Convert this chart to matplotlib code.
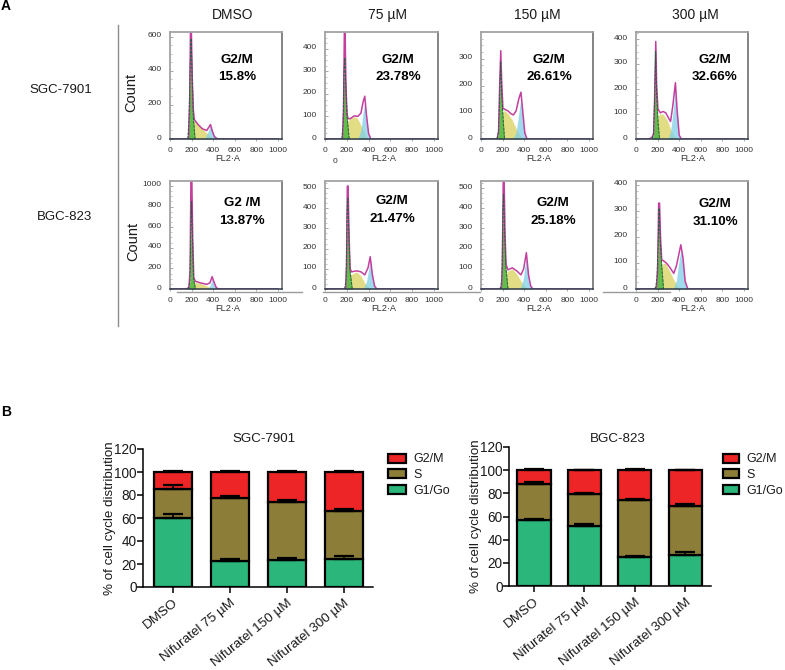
import matplotlib
matplotlib.use('Agg')
import matplotlib.pyplot as plt
from matplotlib.lines import Line2D
from matplotlib.patches import Patch
from matplotlib.ticker import MultipleLocator
from matplotlib.transforms import ScaledTranslation

plt.rcParams['font.family'] = ['Liberation Sans', 'DejaVu Sans']

W, H = 785, 670

# --- flow cytometry histograms: (x, y) ---
sgc_dmso_total = ([0, 160, 172, 182, 190, 197, 205, 215, 225, 260, 300, 340, 360, 375, 390, 410, 440, 1000],
                  [0, 0, 5, 200, 660, 660, 380, 180, 115, 85, 60, 50, 70, 85, 50, 15, 0, 0])
sgc_dmso_g1 = ([165, 176, 186, 196, 206, 216, 232], [0, 120, 420, 590, 360, 130, 0])
sgc_dmso_s = ([200, 215, 225, 260, 300, 340, 380, 420], [0, 100, 110, 85, 60, 35, 10, 0])
sgc_dmso_g2 = ([320, 350, 375, 395, 420, 440], [0, 40, 85, 45, 10, 0])

sgc_75_total = ([0, 140, 160, 170, 178, 184, 192, 202, 212, 230, 270, 300, 330, 350, 365, 380, 400, 420, 1000],
                [0, 0, 3, 120, 495, 495, 240, 110, 90, 90, 103, 100, 115, 165, 190, 110, 25, 0, 0])
sgc_75_g1 = ([155, 166, 174, 182, 192, 204, 222], [0, 60, 300, 360, 220, 90, 0])
sgc_75_s = ([185, 205, 230, 270, 300, 340, 380, 400], [0, 75, 90, 100, 90, 50, 10, 0])
sgc_75_g2 = ([300, 330, 350, 365, 385, 405, 420], [0, 40, 120, 165, 70, 10, 0])

sgc_150_total = ([0, 130, 150, 163, 173, 183, 191, 203, 225, 250, 275, 300, 325, 350, 370, 385, 405, 425, 1000],
                 [0, 0, 2, 30, 200, 330, 220, 115, 110, 105, 95, 90, 105, 150, 175, 110, 25, 0, 0])
sgc_150_g1 = ([150, 163, 172, 182, 192, 204, 218], [0, 30, 150, 290, 170, 80, 0])
sgc_150_s = ([175, 195, 215, 250, 290, 330, 370, 395], [0, 90, 108, 95, 70, 35, 8, 0])
sgc_150_g2 = ([295, 325, 350, 370, 385, 405, 425], [0, 25, 95, 155, 90, 15, 0])

sgc_300_total = ([0, 125, 150, 163, 173, 183, 191, 203, 225, 250, 275, 300, 320, 340, 365, 380, 400, 420, 1000],
                 [0, 0, 8, 20, 170, 390, 220, 120, 105, 110, 105, 85, 70, 130, 225, 120, 15, 0, 0])
sgc_300_g1 = ([150, 163, 172, 182, 192, 204, 218], [0, 25, 150, 350, 170, 70, 0])
sgc_300_s = ([175, 190, 215, 250, 290, 320, 350, 380], [0, 70, 100, 100, 75, 40, 12, 0])
sgc_300_g2 = ([295, 320, 345, 365, 380, 400, 420], [0, 30, 115, 205, 110, 15, 0])

bgc_dmso_total = ([0, 150, 175, 186, 194, 202, 210, 220, 235, 280, 340, 370, 390, 410, 430, 460, 1000],
                  [0, 0, 15, 180, 1080, 1080, 500, 110, 75, 60, 45, 60, 120, 60, 10, 0, 0])
bgc_dmso_g1 = ([170, 184, 192, 200, 208, 218, 236], [0, 70, 500, 850, 500, 100, 0])
bgc_dmso_s = ([205, 225, 280, 340, 385, 410], [0, 65, 55, 30, 8, 0])
bgc_dmso_g2 = ([350, 375, 392, 410, 430, 445], [0, 40, 105, 40, 5, 0])

bgc_75_total = ([0, 170, 190, 198, 205, 212, 220, 230, 245, 290, 330, 365, 395, 415, 435, 455, 475, 1000],
                [0, 0, 3, 120, 510, 510, 280, 100, 85, 90, 85, 70, 105, 160, 70, 15, 0, 0])
bgc_75_g1 = ([180, 194, 202, 210, 218, 230, 250], [0, 50, 380, 450, 300, 90, 0])
bgc_75_s = ([215, 235, 290, 330, 370, 410, 425], [0, 70, 85, 65, 25, 3, 0])
bgc_75_g2 = ([350, 380, 400, 417, 435, 455, 475], [0, 35, 95, 140, 65, 10, 0])

bgc_150_total = ([0, 170, 190, 198, 206, 214, 222, 232, 250, 290, 330, 370, 395, 420, 440, 460, 480, 1000],
                 [0, 0, 10, 120, 545, 545, 280, 120, 95, 105, 90, 70, 100, 180, 70, 15, 0, 0])
bgc_150_g1 = ([180, 194, 202, 210, 218, 230, 250], [0, 50, 380, 470, 300, 110, 0])
bgc_150_s = ([215, 240, 290, 330, 375, 420, 440], [0, 85, 100, 75, 35, 5, 0])
bgc_150_g2 = ([360, 390, 405, 420, 435, 455, 470], [0, 45, 110, 155, 80, 15, 0])

bgc_300_total = ([0, 170, 190, 200, 210, 218, 227, 238, 250, 280, 310, 350, 375, 395, 415, 435, 455, 480, 1000],
                 [0, 0, 8, 70, 330, 330, 200, 110, 110, 100, 85, 60, 90, 130, 170, 120, 30, 0, 0])
bgc_300_g1 = ([180, 194, 204, 214, 224, 238, 255], [0, 40, 160, 310, 190, 90, 0])
bgc_300_s = ([220, 240, 270, 310, 350, 390, 420], [0, 95, 100, 70, 35, 8, 0])
bgc_300_g2 = ([345, 375, 395, 415, 435, 455, 480], [0, 35, 100, 150, 95, 25, 0])

hist_xticks = [0, 200, 400, 600, 800, 1000]
sgc_yticks = [[0, 200, 400, 600], [0, 100, 200, 300, 400], [0, 100, 200, 300], [0, 100, 200, 300, 400]]
bgc_yticks = [[0, 200, 400, 600, 800, 1000], [0, 100, 200, 300, 400, 500],
              [0, 100, 200, 300, 400, 500], [0, 100, 200, 300, 400]]
sgc_labels = [('G2/M', '15.8%'), ('G2/M', '23.78%'), ('G2/M', '26.61%'), ('G2/M', '32.66%')]
bgc_labels = [('G2 /M', '13.87%'), ('G2/M', '21.47%'), ('G2/M', '25.18%'), ('G2/M', '31.10%')]
doses = ['DMSO', '75 µM', '150 µM', '300 µM']

# --- stacked bars ---
categories = ['DMSO', 'Nifuratel 75 µM', 'Nifuratel 150 µM', 'Nifuratel 300 µM']
sgc_g1 = [60, 23, 23.5, 24.5]
sgc_s = [25, 54.5, 50.5, 41.5]
sgc_g2 = [15, 22.5, 26, 34]
sgc_g1_err = [3.5, 1.2, 1.3, 2.5]
sgc_s_err = [3.5, 1.5, 1.5, 1.5]
sgc_g2_err = [0.8, 0.8, 0.6, 0.6]
bgc_g1 = [57, 52, 25, 27]
bgc_s = [31, 27, 49, 42]
bgc_g2 = [12, 21, 26, 31]
bgc_g1_err = [1.2, 1.4, 1.0, 2.0]
bgc_s_err = [1.8, 1.5, 1.5, 1.7]
bgc_g2_err = [0.8, 0.5, 0.6, 0.4]

fig = plt.figure(figsize=(W / 100, H / 100), dpi=100, facecolor='white')


def px_axes(left, right, top, bottom):
    return fig.add_axes([left / W, 1 - bottom / H, (right - left) / W, (bottom - top) / H])


def px_text(x, y, s, **kw):
    kw.setdefault('ha', 'center')
    kw.setdefault('va', 'center')
    kw.setdefault('color', '#1a1a1a')
    fig.text(x / W, 1 - y / H, s, **kw)


def px_line(x0, x1, y0, y1, color='#9a9a9a', lw=1.0):
    fig.add_artist(Line2D([x0 / W, x1 / W], [1 - y0 / H, 1 - y1 / H], color=color, lw=lw))


def draw_hist(box, ymax, yticks, total, g1, s, g2):
    ax = px_axes(*box)
    ax.fill_between(*s, color='#e2dc84', lw=0)
    ax.fill_between(*g2, color='#7fcfe8', alpha=0.75, lw=0)
    ax.fill_between(*g1, color='#63bd4a', lw=0)
    ax.plot(*total, color='#c23f9e', lw=1.1)
    ax.plot(*g1, color='#2f5a45', lw=0.7, ls=(0, (3, 1)))
    ax.set_xlim(0, 1037)
    ax.set_ylim(0, ymax)
    ax.set_xticks(hist_xticks)
    ax.set_yticks(yticks)
    ax.yaxis.set_minor_locator(MultipleLocator(yticks[1] / 4))
    ax.tick_params(axis='x', labelsize=6, length=1.5, width=0.6, pad=4, color='#999999', labelcolor='#333333')
    ax.tick_params(axis='y', labelsize=6, direction='in', length=2.5, width=0.6, pad=6,
                   color='#999999', labelcolor='#333333')
    ax.tick_params(axis='y', which='minor', direction='in', length=1.5, width=0.5, color='#aaaaaa')
    # the count labels sit a little above their ticks in the original
    for lab in ax.get_yticklabels():
        lab.set_transform(lab.get_transform() + ScaledTranslation(0, 2 / 100, fig.dpi_scale_trans))
    for sp in ax.spines.values():
        sp.set_color('#a3a3a3')
        sp.set_linewidth(1.3)
    ax.spines['right'].set_color('#7a7a7a')
    ax.spines['bottom'].set_color('#2b3a48')
    ax.spines['bottom'].set_linewidth(1.1)
    return ax


top_boxes = [(170, 282, 32, 139), (325, 438, 32, 139), (481, 593, 32, 139), (636, 748, 32, 139)]
top_ymax = [629, 475, 400, 428]
top_data = [(sgc_dmso_total, sgc_dmso_g1, sgc_dmso_s, sgc_dmso_g2),
            (sgc_75_total, sgc_75_g1, sgc_75_s, sgc_75_g2),
            (sgc_150_total, sgc_150_g1, sgc_150_s, sgc_150_g2),
            (sgc_300_total, sgc_300_g1, sgc_300_s, sgc_300_g2)]
low_boxes = [(170, 282, 181, 289), (325, 438, 181, 289), (481, 593, 181, 289), (636, 748, 181, 289)]
low_ymax = [1048, 535, 535, 415]
low_data = [(bgc_dmso_total, bgc_dmso_g1, bgc_dmso_s, bgc_dmso_g2),
            (bgc_75_total, bgc_75_g1, bgc_75_s, bgc_75_g2),
            (bgc_150_total, bgc_150_g1, bgc_150_s, bgc_150_g2),
            (bgc_300_total, bgc_300_g1, bgc_300_s, bgc_300_g2)]

for i in range(4):
    draw_hist(top_boxes[i], top_ymax[i], sgc_yticks[i], *top_data[i])
    draw_hist(low_boxes[i], low_ymax[i], bgc_yticks[i], *low_data[i])

# text of panel A
for x, dose in zip([233, 387, 537, 695], doses):
    px_text(x, 15, dose, fontsize=10)
for x, (a, b) in zip([237, 398, 549, 715], sgc_labels):
    px_text(x, 60, a, fontsize=9.6, fontweight='bold', color='black')
    px_text(x, 77, b, fontsize=9.6, fontweight='bold', color='black')
for x, y, (a, b) in zip([242, 392, 553, 715], [203, 201, 203.5, 204], bgc_labels):
    px_text(x, y, a, fontsize=9.6, fontweight='bold', color='black')
    px_text(x, y + 17.5, b, fontsize=9.6, fontweight='bold', color='black')
for x in [228, 384, 539, 693]:
    px_text(x, 159, 'FL2·A', fontsize=6.6, color='#333333')
    px_text(x, 309, 'FL2·A', fontsize=6.6, color='#333333')
px_text(335, 162, '0', fontsize=6, color='#333333')
px_text(131, 92, 'Count', fontsize=10.5, rotation=90)
px_text(133, 241, 'Count', fontsize=10.5, rotation=90)
px_text(92, 90, 'SGC-7901', fontsize=9.5, ha='right')
px_text(92, 217, 'BGC-823', fontsize=9.5, ha='right')
px_text(1, 6, 'A', fontsize=10, fontweight='bold', ha='left', color='black')
px_text(1, 412, 'B', fontsize=10, fontweight='bold', ha='left', color='black')
px_line(117.5, 117.5, 25, 326, color='#8c8c8c', lw=1.0)
px_line(177, 302, 292, 292)
px_line(323, 480, 292, 292)
px_line(603, 670, 292, 292)


def draw_bars(box, xlim, width, title, title_x, g1, s, g2, g1_err, s_err, g2_err, legend_x, handle_len):
    ax = px_axes(*box)
    pos = range(len(categories))
    g2_base = [a + b for a, b in zip(g1, s)]
    tops = [a + b for a, b in zip(g2_base, g2)]
    bar_kw = dict(width=width, edgecolor='black', linewidth=1.6)
    err_kw = dict(fmt='none', ecolor='black', elinewidth=1.2, capsize=7, capthick=1.6)
    ax.errorbar(pos, g1, yerr=[[0] * 4, g1_err], zorder=3, **err_kw)
    ax.errorbar(pos, g2_base, yerr=[[0] * 4, s_err], zorder=3, **err_kw)
    ax.errorbar(pos, tops, yerr=[[0] * 4, g2_err], zorder=3, **err_kw)
    ax.bar(pos, g1, color='#2bb67c', zorder=2, **bar_kw)
    ax.bar(pos, s, bottom=g1, color='#8c7d38', zorder=2, **bar_kw)
    ax.bar(pos, g2, bottom=g2_base, color='#ee2526', zorder=2, **bar_kw)
    ax.set_xlim(*xlim)
    ax.set_ylim(0, 120)
    ax.set_yticks(range(0, 121, 20))
    ax.set_xticks(list(pos))
    ax.set_xticklabels(categories, rotation=39, ha='right', rotation_mode='anchor', fontsize=9.7)
    ax.tick_params(axis='y', labelsize=9.8, width=1.1, length=4, pad=0.5, labelcolor='#1a1a1a')
    ax.tick_params(axis='x', width=1.1, length=4, pad=3, labelcolor='#1a1a1a')
    ax.set_ylabel('% of cell cycle distribution', fontsize=9.6, labelpad=-1.5, color='#1a1a1a')
    px_text(title_x, 439, title, fontsize=9.6)
    ax.patch.set_alpha(0)
    for name in ['top', 'right']:
        ax.spines[name].set_visible(False)
    for name in ['left', 'bottom']:
        ax.spines[name].set_linewidth(1.1)
    handles = [Patch(facecolor=c, edgecolor='black', linewidth=1.6) for c in ['#ee2526', '#8c7d38', '#2bb67c']]
    fig.legend(handles, ['G2/M', 'S', 'G1/Go'], loc='upper left', frameon=False, fontsize=9,
               bbox_to_anchor=(legend_x / W, 1 - 453.5 / H), borderpad=0, borderaxespad=0,
               handlelength=handle_len, handleheight=0.72, handletextpad=0.64, labelspacing=0.3,
               labelcolor='#1a1a1a')


draw_bars((143, 373, 449, 587), (-0.526, 3.509), 0.667, 'SGC-7901', 264, sgc_g1, sgc_s, sgc_g2,
          sgc_g1_err, sgc_s_err, sgc_g2_err, 388, 1.4)
draw_bars((509, 711, 447, 586), (-0.496, 3.51), 0.655, 'BGC-823', 618, bgc_g1, bgc_s, bgc_g2,
          bgc_g1_err, bgc_s_err, bgc_g2_err, 723, 1.25)

fig.savefig('out.png', dpi=100)
